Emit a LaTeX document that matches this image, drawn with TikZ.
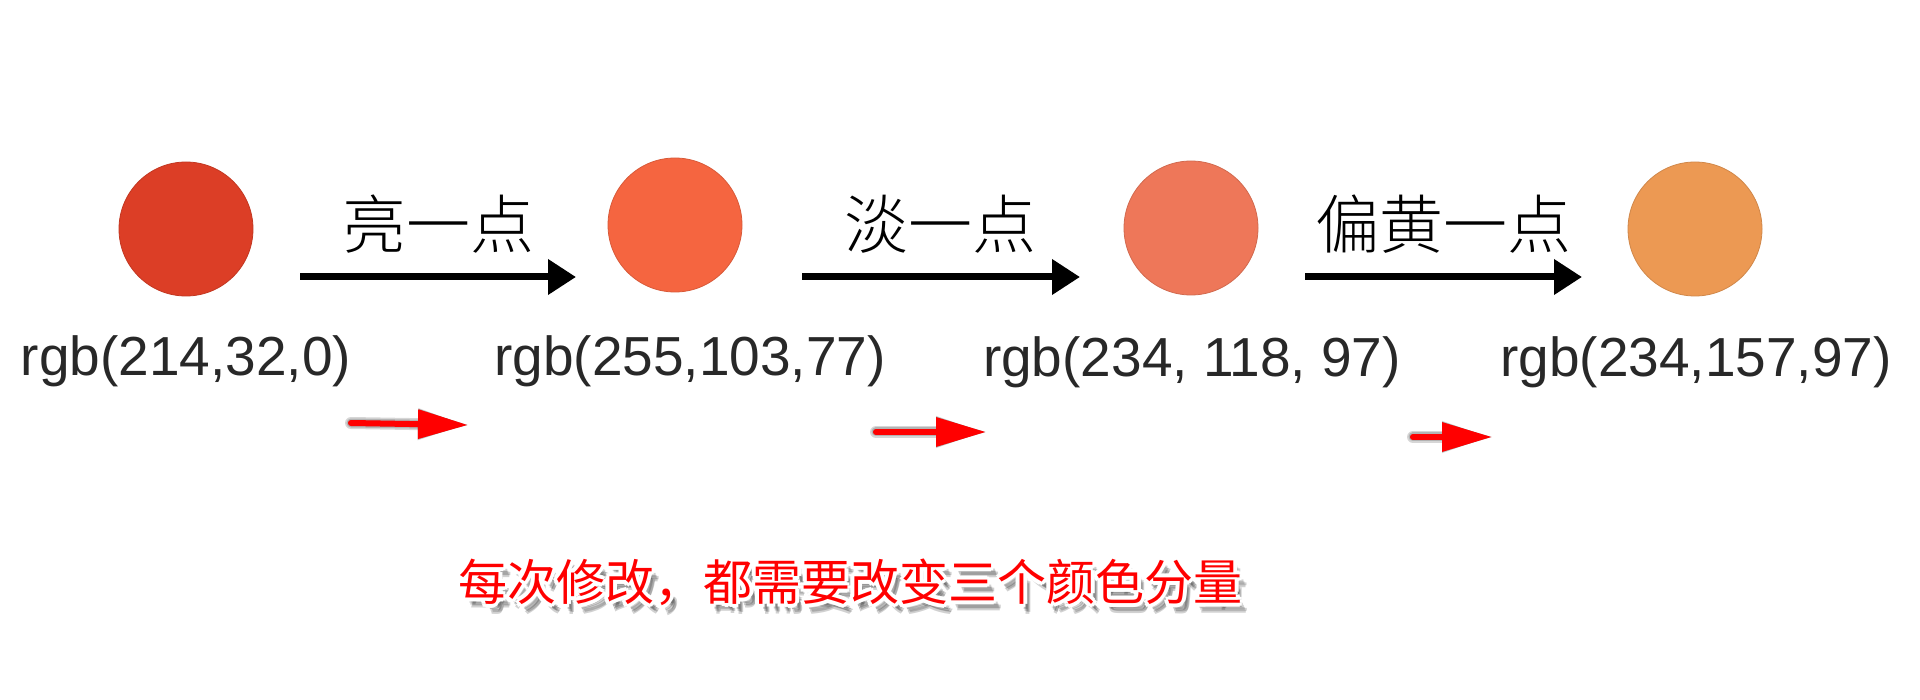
\documentclass[tikz,border=0pt]{standalone}
\usepackage{fontspec}
\setmainfont{Liberation Sans}
\newfontfamily\cjk{Noto Sans CJK SC}
\IfFontExistsTF{Noto Sans CJK SC Light}
  {\newfontfamily\cjklight{Noto Sans CJK SC Light}}
  {\newfontfamily\cjklight{Noto Sans CJK SC}}
\usetikzlibrary{arrows.meta}
\definecolor{cA}{RGB}{220,62,38}
\definecolor{cB}{RGB}{245,101,64}
\definecolor{cC}{RGB}{238,119,89}
\definecolor{cD}{RGB}{236,153,83}
\definecolor{labelgray}{RGB}{40,40,40}
\newcommand{\notetext}{每次修改，都需要改变三个颜色分量}
\begin{document}
\begin{tikzpicture}[x=1pt,y=-1pt,
  dot/.style={circle,minimum size=134pt,inner sep=0pt,draw=#1!88!black,line width=0.8pt,fill=#1},
  rgblabel/.style={font=\fontsize{55}{60}\selectfont,anchor=base,inner sep=0pt,text=labelgray},
  steplabel/.style={font=\cjklight\fontsize{64}{70}\selectfont,anchor=base,inner sep=0pt},
  blackarrow/.style={line width=7pt,-{Triangle[length=28pt,width=34pt]}},
  redarrow/.style={line width=6pt,red,line cap=round,-{Triangle[length=50pt,width=28pt]}},
  redarrowshadow/.style={line width=#1,black,opacity=0.16,line cap=round,-{Triangle[length=50pt,width=28pt]}},
  notefont/.style={font=\cjk\fontsize{49}{55}\selectfont,inner sep=0pt}
]
\useasboundingbox[fill=white] (0,0) rectangle (1920,700);

% colour dots
\node[dot=cA] (c1) at (186,229) {};
\node[dot=cB] (c2) at (675,225) {};
\node[dot=cC] (c3) at (1191,228) {};
\node[dot=cD] (c4) at (1695,229) {};

% rgb labels
\node[rgblabel] (l1) at (186,376) {rgb(214,32,0)};
\node[rgblabel] (l2) at (690,376) {rgb(255,103,77)};
\node[rgblabel] (l3) at (1192,377) {rgb(234, 118, 97)};
\node[rgblabel] (l4) at (1696,377) {rgb(234,157,97)};

% black step arrows
\coordinate (a1s) at (300,277);
\coordinate (a1e) at (576,277);
\coordinate (a2s) at (802,277);
\coordinate (a2e) at (1080,277);
\coordinate (a3s) at (1305,277);
\coordinate (a3e) at (1582,277);
\draw[blackarrow] (a1s) -- (a1e);
\draw[blackarrow] (a2s) -- (a2e);
\draw[blackarrow] (a3s) -- (a3e);

\node[steplabel] (s1) at (438,249) {亮一点};
\node[steplabel] (s2) at (940,249) {淡一点};
\node[steplabel] (s3) at (1443,249) {偏黄一点};

% red arrows with soft shadow
\coordinate (r1s) at (351,423);
\coordinate (r1e) at (468,425);
\coordinate (r2s) at (876,432);
\coordinate (r2e) at (986,432);
\coordinate (r3s) at (1413,437);
\coordinate (r3e) at (1492,437);
\begin{scope}[shift={(4,8)}]
  \foreach \w in {12pt,9pt,6pt,3pt}{
    \draw[redarrowshadow=\w] (r1s) -- (r1e);
    \draw[redarrowshadow=\w] (r2s) -- (r2e);
    \draw[redarrowshadow=\w] (r3s) -- (r3e);
  }
\end{scope}
\draw[redarrow] (r1s) -- (r1e);
\draw[redarrow] (r2s) -- (r2e);
\draw[redarrow] (r3s) -- (r3e);

% red note with white halo and grey shadow
\coordinate (notepos) at (850,582);
\foreach \dx/\dy [count=\i] in {5/-7,7/-8,4/-5,6/-10}{
  \node[notefont,text=black,opacity=0.18,xshift=\dx pt,yshift=\dy pt] (shadow\i) at (notepos) {\notetext};
}
\foreach \a [count=\i] in {0,45,...,315}{
  \node[notefont,text=white,xshift={4*cos(\a)*1pt},yshift={4*sin(\a)*1pt}] (halo\i) at (notepos) {\notetext};
}
\node[notefont,text=red] (note) at (notepos) {\notetext};
\end{tikzpicture}
\end{document}
